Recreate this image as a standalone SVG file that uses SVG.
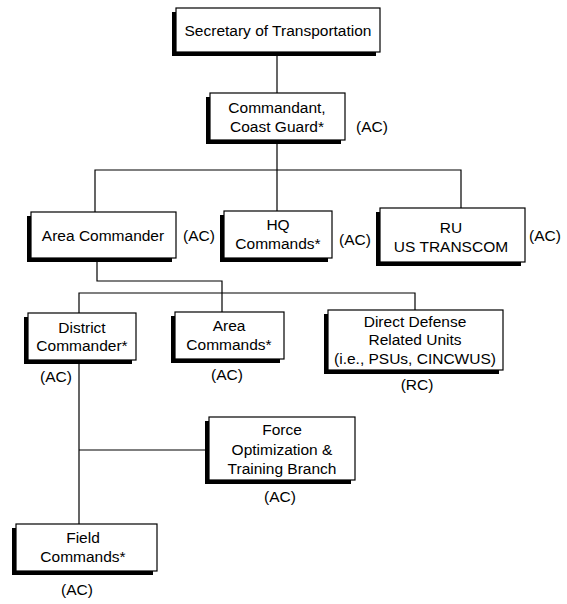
<svg xmlns="http://www.w3.org/2000/svg" width="567" height="604" viewBox="0 0 567 604">
<style>
.sh{fill:#000}
.bx{fill:#fff;stroke:#000;stroke-width:1.2}
text{font-family:"Liberation Sans",Arial,sans-serif;font-size:15.5px;fill:#000}
.c{text-anchor:middle}
.ln{fill:none;stroke:#000;stroke-width:1.2}
</style>
<rect width="567" height="604" fill="#fff"/>
<g id="connectors">
<path class="ln" d="M277,52 V93"/>
<path class="ln" d="M277,140 V170 M95,212 V170 H461 V208 M277,170 V211"/>
<path class="ln" d="M97,258 V281 H222 V312"/>
<path class="ln" d="M79,313 V293 H415 V310"/>
<path class="ln" d="M79,360 V524 M79,450 H207"/>
</g>
<g id="secretary">
<rect class="sh" x="172" y="12" width="204" height="44"/>
<rect class="bx" x="176" y="8" width="204" height="44"/>
<text class="c" x="278" y="36">Secretary of Transportation</text>
</g>
<g id="commandant">
<rect class="sh" x="206" y="97" width="135" height="47"/>
<rect class="bx" x="210" y="93" width="135" height="47"/>
<text class="c" x="277" y="113">Commandant,</text>
<text class="c" x="277" y="132">Coast Guard*</text>
<text x="356" y="132">(AC)</text>
</g>
<g id="area-commander">
<rect class="sh" x="27" y="216" width="145" height="46"/>
<rect class="bx" x="31" y="212" width="145" height="46"/>
<text class="c" x="103" y="241">Area Commander</text>
<text x="183" y="241">(AC)</text>
</g>
<g id="hq-commands">
<rect class="sh" x="220" y="215" width="108" height="47"/>
<rect class="bx" x="224" y="211" width="108" height="47"/>
<text class="c" x="278" y="230">HQ</text>
<text class="c" x="278" y="249">Commands*</text>
<text x="339" y="245">(AC)</text>
</g>
<g id="ru-transcom">
<rect class="sh" x="376" y="212" width="145" height="54"/>
<rect class="bx" x="380" y="208" width="145" height="54"/>
<text class="c" x="451" y="233">RU</text>
<text class="c" x="451" y="252">US TRANSCOM</text>
<text x="529" y="241">(AC)</text>
</g>
<g id="district-commander">
<rect class="sh" x="24" y="317" width="108" height="47"/>
<rect class="bx" x="28" y="313" width="108" height="47"/>
<text class="c" x="82" y="333">District</text>
<text class="c" x="82" y="351">Commander*</text>
<text x="40" y="382">(AC)</text>
</g>
<g id="area-commands">
<rect class="sh" x="171" y="316" width="109" height="47"/>
<rect class="bx" x="175" y="312" width="109" height="47"/>
<text class="c" x="229" y="331">Area</text>
<text class="c" x="229" y="350">Commands*</text>
<text x="211" y="380">(AC)</text>
</g>
<g id="direct-defense">
<rect class="sh" x="324" y="314" width="175" height="60"/>
<rect class="bx" x="328" y="310" width="175" height="60"/>
<text class="c" x="415" y="327">Direct Defense</text>
<text class="c" x="415" y="345">Related Units</text>
<text class="c" x="415" y="364">(i.e., PSUs, CINCWUS)</text>
<text class="c" x="417" y="390">(RC)</text>
</g>
<g id="force-optimization">
<rect class="sh" x="205" y="421" width="146" height="63"/>
<rect class="bx" x="209" y="417" width="146" height="63"/>
<text class="c" x="282" y="435">Force</text>
<text class="c" x="282" y="455">Optimization &amp;</text>
<text class="c" x="282" y="474">Training Branch</text>
<text class="c" x="280" y="502">(AC)</text>
</g>
<g id="field-commands">
<rect class="sh" x="12" y="528" width="141" height="47"/>
<rect class="bx" x="16" y="524" width="141" height="47"/>
<text class="c" x="83" y="543">Field</text>
<text class="c" x="83" y="562">Commands*</text>
<text class="c" x="77" y="595">(AC)</text>
</g>
</svg>
